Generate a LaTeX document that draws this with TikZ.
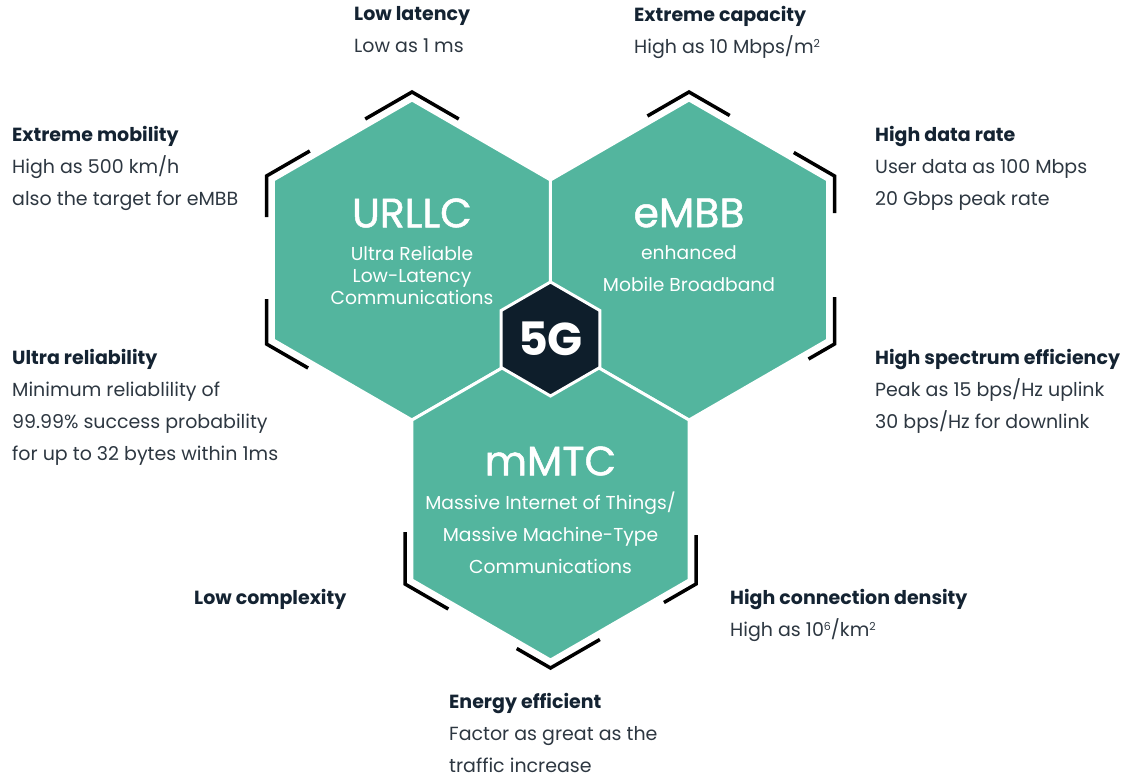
\documentclass[tikz,border=0pt]{standalone}
\usepackage{fontspec}
\setmainfont{Poppins}
\newfontfamily\hexfont[FakeBold=1.2]{Poppins}
\usetikzlibrary{shapes.geometric,calc}

\newcommand{\infohead}[1]{\textcolor{headtext}{\bfseries #1}}
\newcommand{\smallsup}[1]{\raisebox{0.33em}{\fontsize{11}{11}\selectfont #1}}

\begin{document}
\begin{tikzpicture}[x=1pt, y=1pt,
  hexa/.style={regular polygon, regular polygon sides=6, shape border rotate=30, minimum size=320pt, inner sep=0pt, fill=teal5g, draw=white, line width=3pt},
  corehex/.style={regular polygon, regular polygon sides=6, shape border rotate=30, minimum size=114pt, inner sep=0pt, fill=navy5g, draw=white, line width=3pt, text=white, font=\bfseries\fontsize{46}{46}\selectfont},
  bracket/.style={black, line width=3.5pt},
  hexname/.style={text=white, inner sep=0pt, font=\hexfont\fontsize{41}{44}\selectfont},
  hexsub/.style={text=white, align=center, inner sep=0pt, font=\fontsize{18.7}{32}\selectfont},
  info/.style={anchor=north west, align=left, inner sep=0pt, text=bodytext, font=\fontsize{19}{32}\selectfont}]
% Define colors
\definecolor{teal5g}{RGB}{83,181,158}
\definecolor{navy5g}{RGB}{14,30,43}
\definecolor{headtext}{RGB}{20,35,50}
\definecolor{bodytext}{RGB}{45,55,65}

\useasboundingbox (0,0) rectangle (1126,-777);

% Hexagons
\node[hexa] (urllc) at (412,-260) {};
\node[hexa] (embb) at (689,-260) {};
\node[hexa] (mmtc) at (550.5,-500) {};
\node[corehex] (fiveg) at (550.5,-339) {5G};

% Corner brackets
\foreach \hx/\ang/\armA/\armB in {urllc/90/54/54, urllc/150/41/50, urllc/210/48/45,
        embb/90/48/47, embb/30/47/37, embb/-30/47/30,
        mmtc/210/50/52, mmtc/270/57/39, mmtc/-30/49/37}
        \draw[bracket] ($(\hx.center)+(\ang:168)+({\ang+120}:\armA)$) -- ($(\hx.center)+(\ang:168)$) -- ($(\hx.center)+(\ang:168)+({\ang-120}:\armB)$);

% Hexagon texts
\node[hexname] (urllc title) at (412,-213) {URLLC};
\node[hexsub, font=\fontsize{18.7}{22}\selectfont] (urllc sub) at (412,-275) {Ultra Reliable\\Low-Latency\\Communications};
\node[hexname] (embb title) at (689,-213) {eMBB};
\node[hexsub] (embb sub) at (689,-269) {enhanced\\Mobile Broadband};
\node[hexname] (mmtc title) at (550.5,-461) {mMTC};
\node[hexsub] (mmtc sub) at (550.5,-533) {Massive Internet of Things/\\Massive Machine-Type\\Communications};

% Requirements
\node[info] (latency) at (354,-6) {\infohead{Low latency}\\Low as 1 ms};
\node[info] (capacity) at (634,-6) {\infohead{Extreme capacity}\\High as 10 Mbps/m\smallsup{2}};
\node[info] (mobility) at (12,-126) {\infohead{Extreme mobility}\\High as 500 km/h\\also the target for eMBB};
\node[info] (datarate) at (875,-126) {\infohead{High data rate}\\User data as 100 Mbps\\20 Gbps peak rate};
\node[info] (reliability) at (12,-349) {\infohead{Ultra reliability}\\Minimum reliablility of\\99.99\% success probability\\for up to 32 bytes within 1ms};
\node[info] (spectrum) at (875,-349) {\infohead{High spectrum efficiency}\\Peak as 15 bps/Hz uplink\\30 bps/Hz for downlink};
\node[info] (complexity) at (194,-589) {\infohead{Low complexity}};
\node[info] (density) at (730,-589) {\infohead{High connection density}\\High as 10\smallsup{6}/km\smallsup{2}};
\node[info] (energy) at (449,-693) {\infohead{Energy efficient}\\Factor as great as the\\traffic increase};
\end{tikzpicture}
\end{document}
